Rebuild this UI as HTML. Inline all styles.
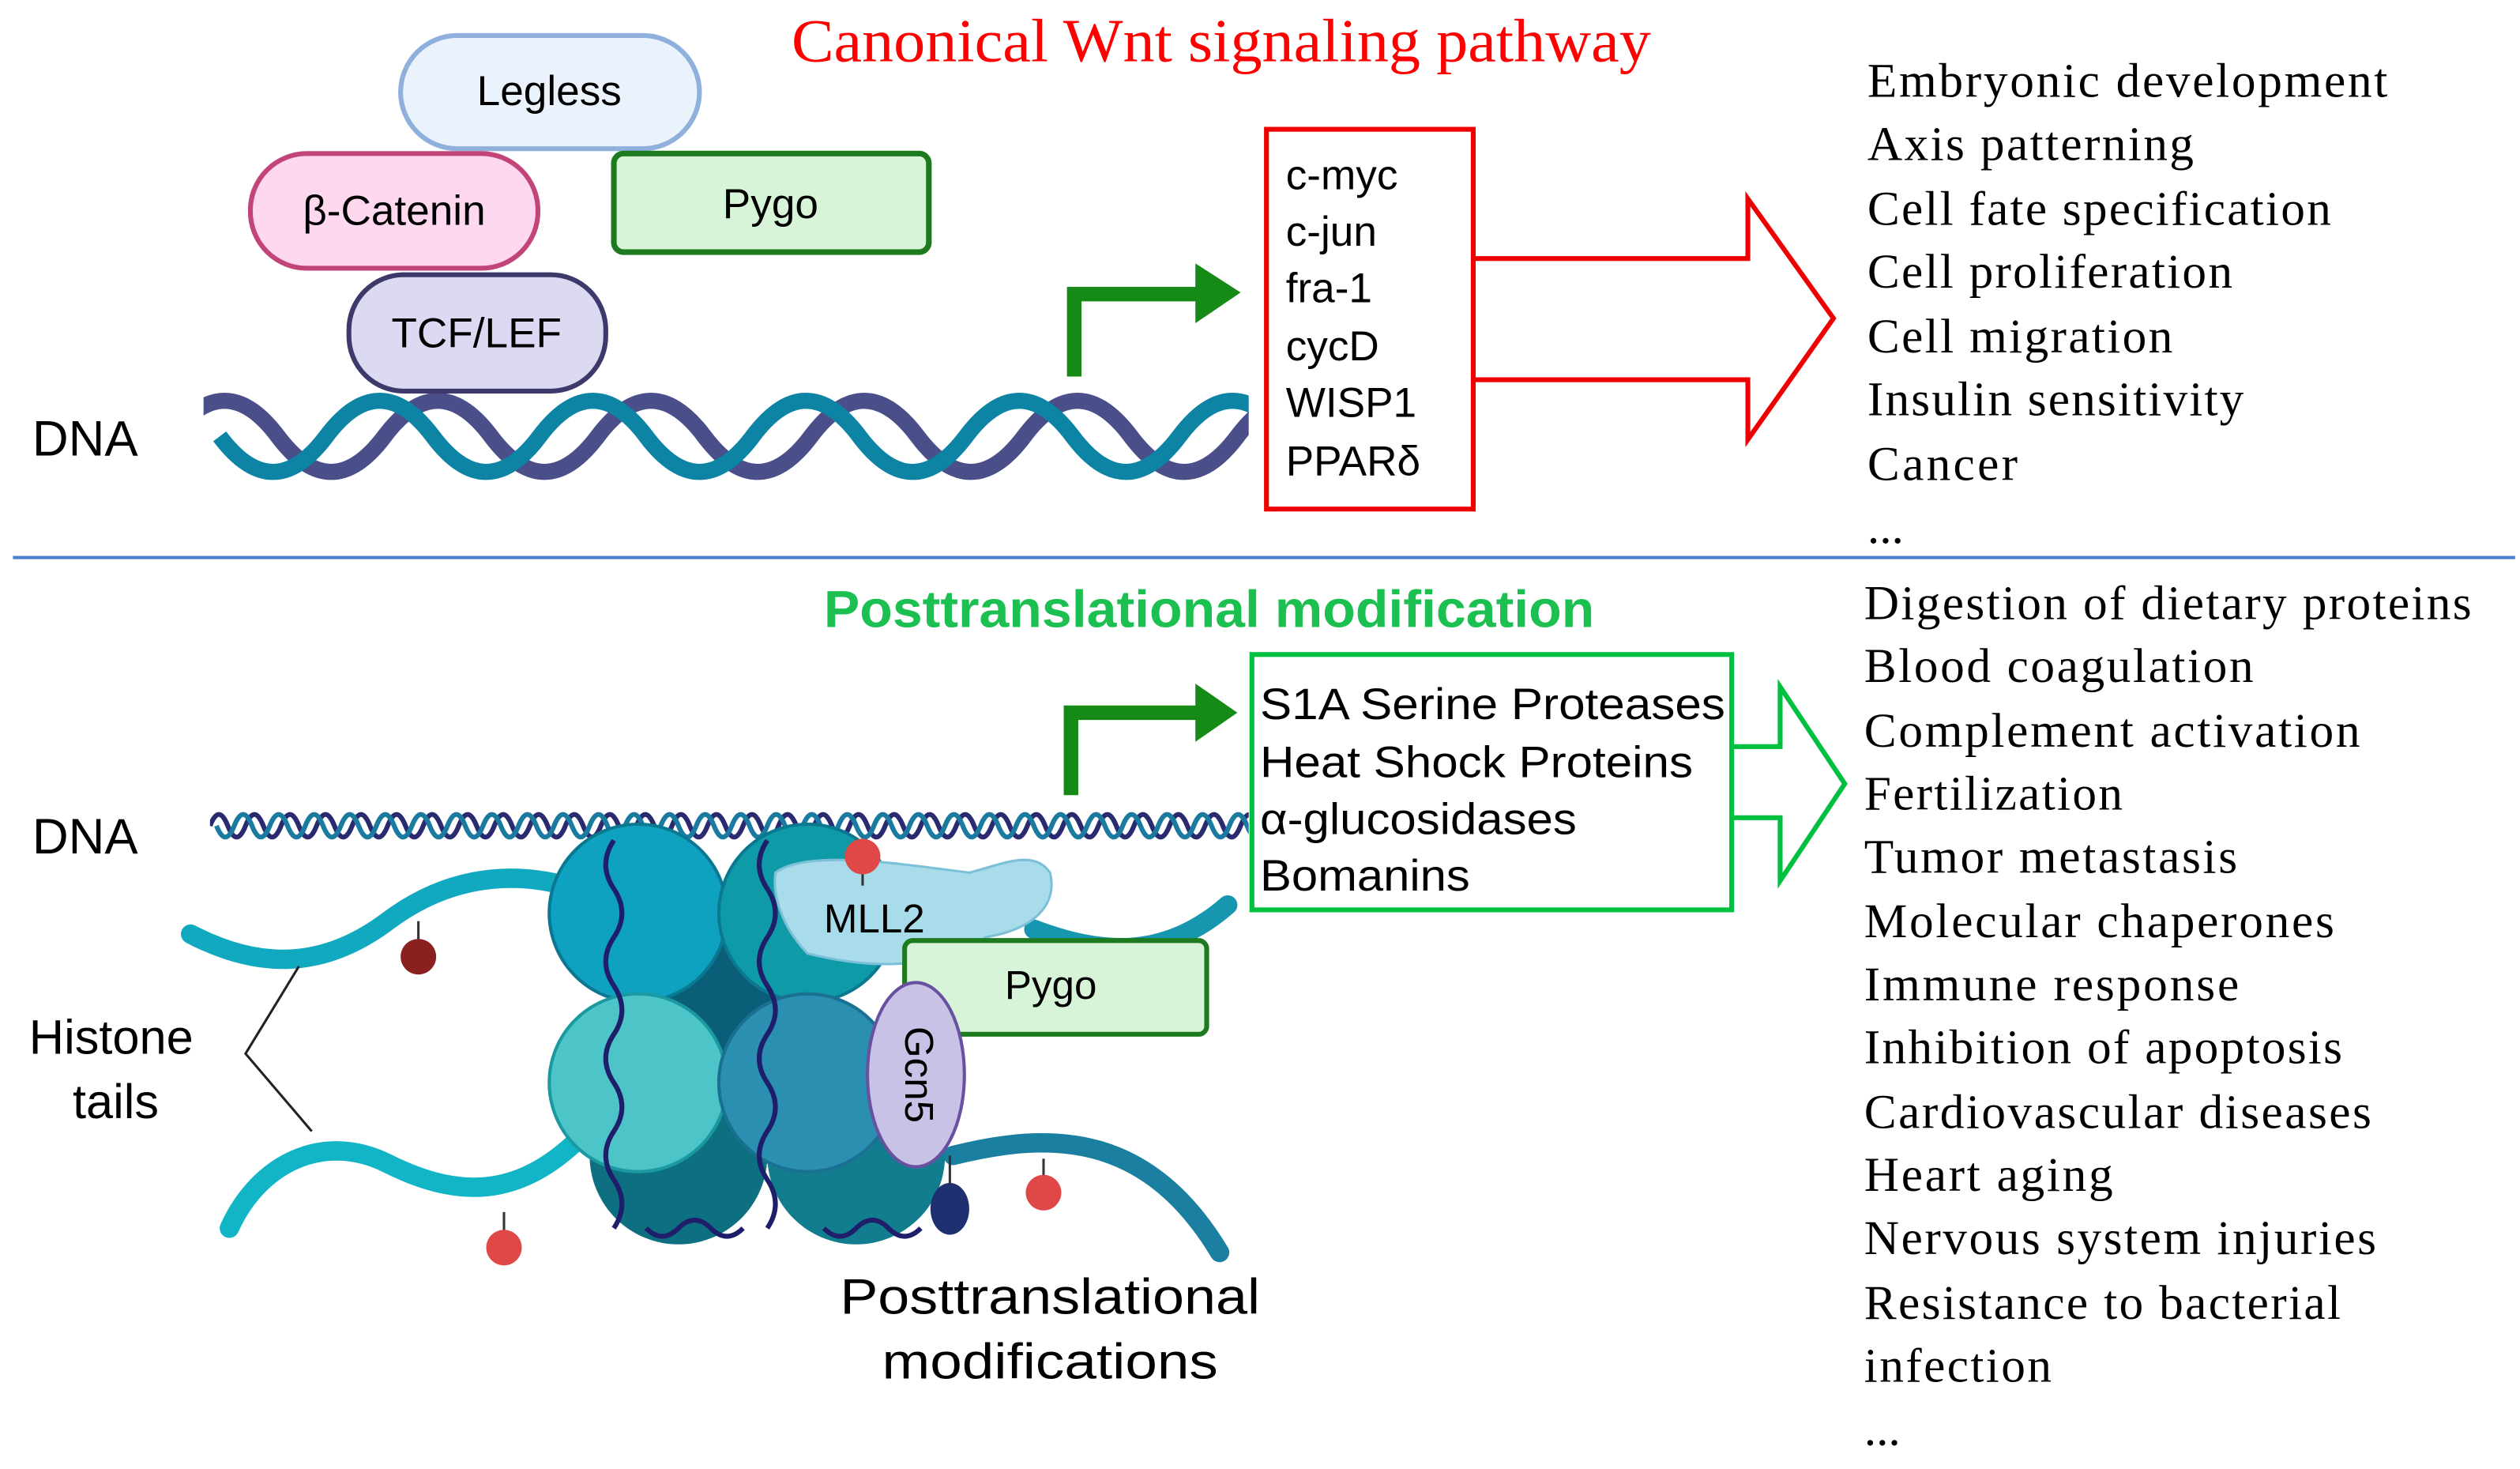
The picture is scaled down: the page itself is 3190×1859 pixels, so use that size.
<!DOCTYPE html>
<html><head><meta charset="utf-8"><style>
html,body{margin:0;padding:0;background:#fff}
svg{display:block}
.s{font-family:"Liberation Sans",sans-serif}
.r{font-family:"Liberation Serif",serif}
</style></head><body>
<svg width="3190" height="1859" viewBox="0 0 1560 909" preserveAspectRatio="none" xmlns="http://www.w3.org/2000/svg">
<defs><clipPath id="c1"><rect x="126" y="230" width="647" height="80"/></clipPath>
<clipPath id="c2"><rect x="130" y="495" width="643" height="35"/></clipPath></defs>
<text x="490" y="38" class="r" font-size="38" fill="#f00" textLength="532" lengthAdjust="spacingAndGlyphs">Canonical Wnt signaling pathway</text>
<rect x="248" y="22" width="185" height="70" rx="35" fill="#eaf3fc" stroke="#8fb0dc" stroke-width="3"/>
<text x="340" y="65" class="s" font-size="26" text-anchor="middle">Legless</text>
<rect x="155" y="95" width="178" height="71" rx="35" fill="#fdd8ee" stroke="#c2457a" stroke-width="3"/>
<text x="244" y="139" class="s" font-size="26" text-anchor="middle">β-Catenin</text>
<rect x="380" y="95" width="195" height="61" rx="6" fill="#d8f4d8" stroke="#1e7a1e" stroke-width="3.5"/>
<text x="477" y="135" class="s" font-size="26" text-anchor="middle">Pygo</text>
<text x="20" y="282" class="s" font-size="31">DNA</text>
<g clip-path="url(#c1)" fill="none" stroke-width="10">
<path d="M126 270 q33 -44 66 0 t66 0 t66 0 t66 0 t66 0 t66 0 t66 0 t66 0 t66 0 t66 0 t66 0" stroke="#4a4f8a" transform="translate(-20,0)"/>
<path d="M126 270 q33 44 66 0 t66 0 t66 0 t66 0 t66 0 t66 0 t66 0 t66 0 t66 0 t66 0 t66 0" stroke="#0e84a5" transform="translate(10,0)"/>
</g>
<rect x="216" y="170" width="159" height="72" rx="34" fill="#dcdaf2" stroke="#3d3a6b" stroke-width="3"/>
<text x="295" y="215" class="s" font-size="26" text-anchor="middle">TCF/LEF</text>
<path d="M665 233 V182 H742" fill="none" stroke="#168a16" stroke-width="9"/>
<polygon points="740,163 768,181 740,200" fill="#168a16"/>
<rect x="784" y="80" width="128" height="235" fill="none" stroke="#e00" stroke-width="3"/>
<g class="s" font-size="26">
<text x="796" y="117">c-myc</text><text x="796" y="152">c-jun</text><text x="796" y="187">fra-1</text>
<text x="796" y="223">cycD</text><text x="796" y="258">WISP1</text><text x="796" y="294">PPARδ</text>
</g>
<polyline points="912,160 1082,160 1082,123 1135,197 1082,272 1082,235 912,235" fill="none" stroke="#e00" stroke-width="3"/>
<g class="r" font-size="30" lengthAdjust="spacingAndGlyphs">
<text x="1156" y="60" textLength="322">Embryonic development</text><text x="1156" y="99" textLength="202">Axis patterning</text>
<text x="1156" y="139" textLength="287">Cell fate specification</text><text x="1156" y="178" textLength="226">Cell proliferation</text>
<text x="1156" y="218" textLength="189">Cell migration</text><text x="1156" y="257" textLength="233">Insulin sensitivity</text>
<text x="1156" y="297" textLength="93">Cancer</text><text x="1156" y="336">...</text>
</g>
<line x1="8" y1="345" x2="1557" y2="345" stroke="#4a7fd0" stroke-width="2"/>
<text x="510" y="388" class="s" font-size="32" font-weight="bold" fill="#1cc050" textLength="477" lengthAdjust="spacingAndGlyphs">Posttranslational modification</text>
<rect x="775" y="405" width="297" height="158" fill="none" stroke="#00c040" stroke-width="3"/>
<g class="s" font-size="27">
<text x="780" y="445" textLength="288" lengthAdjust="spacingAndGlyphs">S1A Serine Proteases</text><text x="780" y="481" textLength="268" lengthAdjust="spacingAndGlyphs">Heat Shock Proteins</text>
<text x="780" y="516" textLength="196" lengthAdjust="spacingAndGlyphs">α-glucosidases</text><text x="780" y="551" textLength="130" lengthAdjust="spacingAndGlyphs">Bomanins</text>
</g>
<polyline points="1072,462 1102,462 1102,425 1142,485 1102,545 1102,506 1072,506" fill="none" stroke="#00c040" stroke-width="3"/>
<path d="M663 492 V441 H742" fill="none" stroke="#168a16" stroke-width="9"/>
<polygon points="740,423 766,441 740,459" fill="#168a16"/>
<g class="r" font-size="30" lengthAdjust="spacingAndGlyphs">
<text x="1154" y="383" textLength="376">Digestion of dietary proteins</text><text x="1154" y="422" textLength="241">Blood coagulation</text>
<text x="1154" y="462" textLength="307">Complement activation</text><text x="1154" y="501" textLength="160">Fertilization</text>
<text x="1154" y="540" textLength="231">Tumor metastasis</text><text x="1154" y="580" textLength="291">Molecular chaperones</text>
<text x="1154" y="619" textLength="232">Immune response</text><text x="1154" y="658" textLength="296">Inhibition of apoptosis</text>
<text x="1154" y="698" textLength="314">Cardiovascular diseases</text><text x="1154" y="737" textLength="154">Heart aging</text>
<text x="1154" y="776" textLength="317">Nervous system injuries</text><text x="1154" y="816" textLength="295">Resistance to bacterial</text>
<text x="1154" y="855" textLength="116">infection</text><text x="1154" y="894">...</text>
</g>
<text x="20" y="528" class="s" font-size="31">DNA</text>
<g clip-path="url(#c2)" fill="none" stroke-width="3">
<path d="M130 511 q5.5 -14 11 0 t11 0 t11 0 t11 0 t11 0 t11 0 t11 0 t11 0 t11 0 t11 0 t11 0 t11 0 t11 0 t11 0 t11 0 t11 0 t11 0 t11 0 t11 0 t11 0 t11 0 t11 0 t11 0 t11 0 t11 0 t11 0 t11 0 t11 0 t11 0 t11 0 t11 0 t11 0 t11 0 t11 0 t11 0 t11 0 t11 0 t11 0 t11 0 t11 0 t11 0 t11 0 t11 0 t11 0 t11 0 t11 0 t11 0 t11 0 t11 0 t11 0 t11 0 t11 0 t11 0 t11 0 t11 0 t11 0 t11 0 t11 0 t11 0" stroke="#2a2a70"/>
<path d="M134 511 q5.5 14 11 0 t11 0 t11 0 t11 0 t11 0 t11 0 t11 0 t11 0 t11 0 t11 0 t11 0 t11 0 t11 0 t11 0 t11 0 t11 0 t11 0 t11 0 t11 0 t11 0 t11 0 t11 0 t11 0 t11 0 t11 0 t11 0 t11 0 t11 0 t11 0 t11 0 t11 0 t11 0 t11 0 t11 0 t11 0 t11 0 t11 0 t11 0 t11 0 t11 0 t11 0 t11 0 t11 0 t11 0 t11 0 t11 0 t11 0 t11 0 t11 0 t11 0 t11 0 t11 0 t11 0 t11 0 t11 0 t11 0 t11 0 t11 0 t11 0" stroke="#1a7aa0"/>
</g>
<g fill="none" stroke-linecap="round">
<path d="M118 578 C160 600 200 600 240 570 C280 540 320 540 350 548" stroke="#11a9c0" stroke-width="12"/>
<path d="M142 760 C160 720 200 700 240 720 C290 745 330 740 372 690" stroke="#11b5c5" stroke-width="12"/>
<path d="M640 575 C680 590 720 595 760 560" stroke="#1796b0" stroke-width="12"/>
<path d="M590 715 C650 700 710 700 755 775" stroke="#1a7fa0" stroke-width="12"/>
</g>
<line x1="259" y1="570" x2="259" y2="590" stroke="#333" stroke-width="1.5"/><circle cx="259" cy="592" r="11" fill="#8b2020"/>
<line x1="312" y1="750" x2="312" y2="770" stroke="#333" stroke-width="1.5"/><circle cx="312" cy="772" r="11" fill="#e04848"/>
<line x1="646" y1="717" x2="646" y2="736" stroke="#333" stroke-width="1.5"/><circle cx="646" cy="738" r="11" fill="#e04848"/>
<circle cx="420" cy="715" r="55" fill="#0d6f80"/>
<circle cx="530" cy="715" r="55" fill="#137d90"/>
<circle cx="450" cy="620" r="55" fill="#0a5e78"/>
<circle cx="395" cy="565" r="55" fill="#0ea2c0" stroke="#0a7890" stroke-width="2"/>
<circle cx="500" cy="565" r="55" fill="#0f9aa8" stroke="#0a7890" stroke-width="2"/>
<circle cx="395" cy="670" r="55" fill="#4cc4c8" stroke="#1a9aa0" stroke-width="2"/>
<circle cx="500" cy="670" r="55" fill="#2a8fb0" stroke="#1a7090" stroke-width="2"/>
<g fill="none" stroke="#1e1e6a" stroke-width="3">
<path d="M380 520 q-10 15 0 30 t0 30 t0 30 t0 30 t0 30 t0 30 t0 30 t0 30"/>
<path d="M475 520 q-10 15 0 30 t0 30 t0 30 t0 30 t0 30 t0 30 t0 30 t0 30"/>
<path d="M400 760 q10 10 20 0 t20 0 t20 0"/>
<path d="M510 760 q10 10 20 0 t20 0 t20 0"/>
</g>
<path d="M480 540 C500 525 560 535 600 540 C620 535 640 525 650 540 C655 560 640 575 610 580 C580 600 540 600 500 590 C485 575 478 555 480 540 Z" fill="#a9dcea" stroke="#7cc0d8" stroke-width="1.5"/>
<text x="510" y="577" class="s" font-size="25">MLL2</text>
<line x1="534" y1="530" x2="534" y2="548" stroke="#333" stroke-width="1.5"/><circle cx="534" cy="530" r="11" fill="#e04848"/>
<rect x="560" y="582" width="187" height="58" rx="5" fill="#d8f4d8" stroke="#1e7a1e" stroke-width="3"/>
<text x="622" y="618" class="s" font-size="25">Pygo</text>
<ellipse cx="567" cy="665" rx="30" ry="57" fill="#c8c3e6" stroke="#6a50a0" stroke-width="2"/>
<text x="567" y="665" class="s" font-size="25" transform="rotate(90 567 665)" text-anchor="middle" dominant-baseline="middle">Gcn5</text>
<line x1="588" y1="715" x2="588" y2="735" stroke="#333" stroke-width="1.5"/><ellipse cx="588" cy="748" rx="12" ry="16" fill="#1e3070"/>
<text x="18" y="652" class="s" font-size="30">Histone</text>
<text x="45" y="692" class="s" font-size="30">tails</text>
<polyline points="185,598 152,652 193,700" fill="none" stroke="#222" stroke-width="1.5"/>
<text x="650" y="813" class="s" font-size="31" text-anchor="middle" textLength="260" lengthAdjust="spacingAndGlyphs">Posttranslational</text>
<text x="650" y="853" class="s" font-size="31" text-anchor="middle" textLength="208" lengthAdjust="spacingAndGlyphs">modifications</text>
</svg>
</body></html>
